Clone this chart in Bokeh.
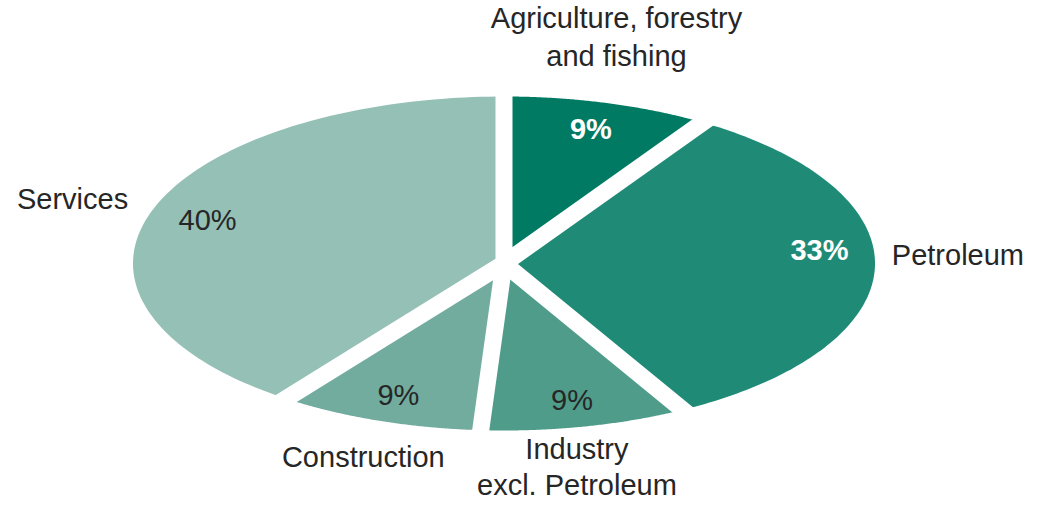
import numpy as np
from bokeh.plotting import figure
from bokeh.models import Range1d
from bokeh.embed import file_html
from bokeh.resources import INLINE
from bokeh.core.properties import value

# ---- data ----
categories = ["Agriculture, forestry\nand fishing", "Petroleum",
              "Industry\nexcl. Petroleum", "Construction", "Services"]
shares = [9, 33, 9, 9, 40]
pct_labels = ["9%", "33%", "9%", "9%", "40%"]

# ---- style ----
colors = ["#007a62", "#1f8b77", "#4f9c8b", "#72ac9e", "#94c0b5"]
pct_colors = ["white", "white", "#262626", "#262626", "#262626"]
pct_styles = ["bold", "bold", "normal", "normal", "normal"]
FONT = value("Liberation Sans")
W, H = 1025, 502
CX, CY, RX, RY = 503.5, 239.0, 371.0, 167.0
GAP = 17
PCT_R = 0.84
# label layout: nudges (px) from slice edge point, alignment
pct_nudge = [(0, 0), (4, 18), (0, 0), (0, 0), (0, 0)]
cat_nudge = [(9, 31), (17, 14), (-8, -75), (-15, -36), (-23, 13)]
cat_align = ["center", "left", "center", "center", "right"]
cat_base = ["bottom", "middle", "bottom", "middle", "middle"]
cat_lh = [1.2, 1.2, 1.15, 1.2, 1.2]

p = figure(width=W, height=H, x_range=Range1d(0, W), y_range=Range1d(0, H),
           output_backend="svg", toolbar_location=None, min_border=0,
           x_axis_location=None, y_axis_location=None)
p.grid.visible = False
p.outline_line_color = None
p.background_fill_color = "white"

total = float(sum(shares))
starts, ends = [], []
a = 90.0
for s in shares:
    starts.append(a)
    a -= 360.0 * s / total
    ends.append(a)

xs, ys = [], []
for st, en in zip(starts, ends):
    t = np.radians(np.linspace(st, en, 120))
    xs.append(list(np.concatenate([[CX], CX + RX * np.cos(t)])))
    ys.append(list(np.concatenate([[CY], CY + RY * np.sin(t)])))
p.patches(xs, ys, fill_color=colors, line_color=None)

# white gaps along slice boundaries
bt = np.radians(np.array(starts))
p.segment(x0=[CX] * len(bt), y0=[CY] * len(bt),
          x1=list(CX + 1.2 * RX * np.cos(bt)), y1=list(CY + 1.2 * RY * np.sin(bt)),
          line_color="white", line_width=GAP, line_cap="butt")

mids = np.radians((np.array(starts) + np.array(ends)) / 2.0)

# percentage labels
for i in range(len(shares)):
    x = CX + PCT_R * RX * np.cos(mids[i]) + pct_nudge[i][0]
    y = CY + PCT_R * RY * np.sin(mids[i]) + pct_nudge[i][1]
    p.text(x=[x], y=[y], text=[pct_labels[i]], text_font=FONT,
           text_font_size="29px", text_font_style=pct_styles[i],
           text_color=pct_colors[i], text_align="center", text_baseline="middle")

# category labels
for i in range(len(shares)):
    x = CX + RX * np.cos(mids[i]) + cat_nudge[i][0]
    y = CY + RY * np.sin(mids[i]) + cat_nudge[i][1]
    p.text(x=[x], y=[y], text=[categories[i]], text_font=FONT,
           text_font_size="29px", text_color="#262626",
           text_align=cat_align[i], text_baseline=cat_base[i],
           text_line_height=cat_lh[i])

open("out.html", "w").write(file_html(p, INLINE))
